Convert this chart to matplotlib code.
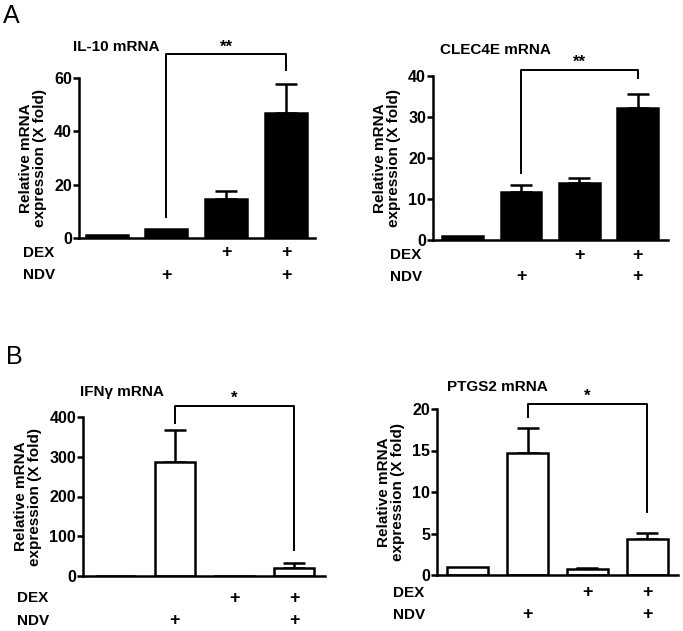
import numpy as np
import matplotlib
matplotlib.use("Agg")
import matplotlib.pyplot as plt
from matplotlib.transforms import blended_transform_factory

plt.rcParams['font.family'] = ['Liberation Sans', 'DejaVu Sans']
plt.rcParams['font.weight'] = 'bold'

# ----- data -----
il10_vals = [1.0, 3.3, 14.5, 47.0]
il10_err = [0.0, 0.0, 3.0, 10.6]
clec_vals = [1.0, 11.7, 14.0, 32.3]
clec_err = [0.0, 1.7, 1.2, 3.4]
ifng_vals = [1.0, 287.0, 0.5, 19.0]
ifng_err = [0.0, 80.0, 0.0, 13.0]
ptgs_vals = [1.0, 14.7, 0.75, 4.3]
ptgs_err = [0.0, 3.0, 0.1, 0.8]

dex = ["", "", "+", "+"]
ndv = ["", "+", "", "+"]

W, H = 683, 631
fig = plt.figure(figsize=(W / 100, H / 100), dpi=100)


def fx(px):
    return px / W


def fy(py):
    return 1 - py / H


def panel(rect, vals, err, ymax, step, title, title_xy, fill, xlim,
          bracket, stars, lab_x, rows, width=0.69):
    l, t, r, b = rect
    ax = fig.add_axes([fx(l), fy(b), fx(r - l), (b - t) / H])
    x = np.arange(len(vals))
    ax.bar(x, vals, width=width, color=fill, edgecolor='black', linewidth=1.8, zorder=2)
    e = np.array(err)
    m = e > 0
    ax.errorbar(x[m], np.array(vals)[m], yerr=[np.zeros(m.sum()), e[m]], fmt='none',
                ecolor='black', elinewidth=1.8, capsize=8, capthick=1.8, zorder=1)
    ax.set_xlim(*xlim)
    ax.set_ylim(0, ymax)
    ax.set_yticks(np.arange(0, ymax + step / 2, step))
    for s in ['top', 'right']:
        ax.spines[s].set_visible(False)
    for s in ['left', 'bottom']:
        ax.spines[s].set_linewidth(1.8)
    ax.set_xticks([])
    ax.tick_params(axis='y', direction='out', length=4, width=1.8, labelsize=11.5, pad=1)
    for lbl in ax.get_yticklabels():
        lbl.set_fontweight('bold')
    ax.set_ylabel('Relative mRNA\nexpression (X fold)', fontsize=11, fontweight='bold',
                  labelpad=5, linespacing=1.0)
    fig.text(fx(title_xy[0]), fy(title_xy[1]), title, fontsize=11, fontweight='bold',
             ha='left', va='center')
    # significance bracket
    x1, x2, top, h1, h2 = bracket
    ax.plot([x1, x1, x2, x2], [h1, top, top, h2], color='black', lw=1.4, clip_on=False)
    ax.text((x1 + x2) / 2, top, stars, ha='center', va='bottom', fontsize=12,
            fontweight='bold')
    # treatment rows
    tr = blended_transform_factory(ax.transData, fig.transFigure)
    for name, marks, ry in [('DEX', dex, rows[0]), ('NDV', ndv, rows[1])]:
        fig.text(fx(lab_x), fy(ry), name, fontsize=11, fontweight='bold',
                 ha='left', va='center')
        for i, mk in enumerate(marks):
            if mk:
                ax.text(i, fy(ry), mk, transform=tr, ha='center', va='center',
                        fontsize=13, fontweight='bold')
    return ax


panel((79, 78, 315, 238), il10_vals, il10_err, 60, 20, 'IL-10 mRNA', (73, 47), 'black',
      (-0.46, 3.48), (1, 3, 68.9, 7.9, 63.0), '**', 23, (253, 275), width=0.70)
panel((433, 76, 668, 240), clec_vals, clec_err, 40, 10, 'CLEC4E mRNA', (440, 50), 'black',
      (-0.51, 3.52), (1, 3, 41.5, 16.3, 39.5), '**', 390, (255, 277), width=0.70)
panel((83, 417, 325, 576), ifng_vals, ifng_err, 400, 100, 'IFN\u03b3 mRNA', (80, 392), 'white',
      (-0.54, 3.52), (1, 3, 428, 385, 65), '*', 17, (598, 621), width=0.68)
panel((437, 409, 678, 575), ptgs_vals, ptgs_err, 20, 5, 'PTGS2 mRNA', (447, 387), 'white',
      (-0.51, 3.51), (1, 3, 20.6, 19.0, 7.6), '*', 393, (593, 615), width=0.68)

fig.text(fx(3), fy(4), 'A', fontsize=18, fontweight='normal', ha='left', va='top')
fig.text(fx(6), fy(345), 'B', fontsize=18, fontweight='normal', ha='left', va='top')

fig.savefig('out.png', dpi=100)
